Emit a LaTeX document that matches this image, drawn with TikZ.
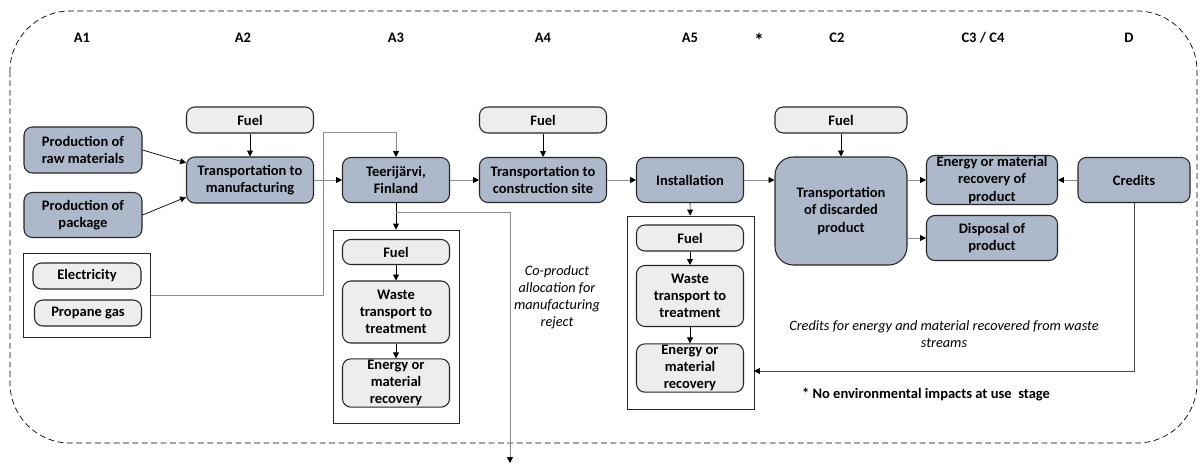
\documentclass[tikz,border=0pt]{standalone}
\usepackage{fontspec}
\setmainfont{Carlito}
\usetikzlibrary{arrows.meta}

\definecolor{stagefill}{HTML}{ADB9CA}
\definecolor{inputfill}{HTML}{EDEDED}
\definecolor{edgegray}{HTML}{262626}

\tikzset{
  sz/.style 2 args={minimum width=#1*0.03cm, minimum height=#2*0.03cm},
  mainbox/.style={draw=edgegray, line width=0.9pt, fill=stagefill, rounded corners=0.25cm,
    align=center, font=\bfseries\fontsize{12.4}{14.6}\selectfont, inner sep=1pt},
  inbox/.style={mainbox, fill=inputfill},
  groupbox/.style={draw=edgegray, line width=0.8pt, fill=white, inner sep=0pt},
  conn/.style={-{Triangle[length=5pt,width=5pt,color=black]}, line width=0.6pt},
  flow/.style={conn, draw=black!45},
  stagelbl/.style={font=\bfseries\fontsize{12.4}{14}\selectfont},
  note/.style={align=center, font=\itshape\fontsize{12.2}{14.5}\selectfont}
}

\begin{document}
\begin{tikzpicture}[x=0.03cm, y=-0.03cm]
  \useasboundingbox (0,0) rectangle (1201,465);

  % system boundary
  \draw[dashed, dash pattern=on 5pt off 3pt, line width=0.6pt, rounded corners=1.8cm]
    (10,11) rectangle (1197,443);

  % stages
  \node[stagelbl] (sAone)   at (82,38)   {A1};
  \node[stagelbl] (sAtwo)   at (243,38)  {A2};
  \node[stagelbl] (sAthree) at (396,38)  {A3};
  \node[stagelbl] (sAfour)  at (543,38)  {A4};
  \node[stagelbl] (sAfive)  at (690,38)  {A5};
  \node[font=\bfseries\fontsize{17}{17}\selectfont] (sUse) at (759,40) {*};
  \node[stagelbl] (sCtwo)   at (837,38)  {C2};
  \node[stagelbl] (sCthree) at (983,38)  {C3 / C4};
  \node[stagelbl] (sD)      at (1129,38) {D};

  % A1 - A2
  \node[mainbox, sz={118}{46}] (prodraw) at (83,150) {Production of\\raw materials};
  \node[mainbox, sz={118}{45}] (prodpkg) at (83,215) {Production of\\package};
  \node[inbox, sz={127}{26}] (fuelmfg) at (250,120) {Fuel};
  \node[mainbox, sz={127}{46}] (transmfg) at (250,180) {Transportation to\\manufacturing};

  \node[groupbox, sz={127}{84}] (energyin) at (87,295) {};
  \node[inbox, sz={108}{26}] (elec) at (87,276) {Electricity};
  \node[inbox, sz={107}{26}] (propane) at (88,313) {Propane gas};

  % A3
  \node[mainbox, sz={107}{45}] (teeri) at (396,180) {Teerijärvi,\\Finland};
  \node[groupbox, sz={126}{193}] (wastemfgbox) at (396,326.5) {};
  \node[inbox, sz={107}{25}] (fuelwmfg) at (396,252) {Fuel};
  \node[inbox, sz={107}{62}] (wastemfg) at (396,312) {Waste\\transport to\\treatment};
  \node[inbox, sz={107}{48}] (recovmfg) at (396,383) {Energy or\\material\\recovery};

  % A4 - A5
  \node[inbox, sz={127}{26}] (fuelsite) at (543,120) {Fuel};
  \node[mainbox, sz={127}{45}] (transsite) at (543,180) {Transportation to\\construction site};
  \node[mainbox, sz={107}{45}] (install) at (690,180) {Installation};
  \node[groupbox, sz={127}{193}] (wasteinsbox) at (690.5,312.5) {};
  \node[inbox, sz={107}{26}] (fuelwins) at (690,238) {Fuel};
  \node[inbox, sz={107}{61}] (wasteins) at (690,296) {Waste\\transport to\\treatment};
  \node[inbox, sz={107}{48}] (recovins) at (690,368) {Energy or\\material\\recovery};

  % C2 - D
  \node[inbox, sz={132}{26}] (fueldisc) at (841,120) {Fuel};
  \node[mainbox, rounded corners=0.55cm, sz={132}{108}] (transdisc) at (841,211)
    {Transportation\\of discarded\\product};
  \node[mainbox, sz={131}{45}] (recovprod) at (992,180) {Energy or material\\recovery of\\product};
  \node[mainbox, sz={131}{45}] (disposal) at (992,238) {Disposal of\\product};
  \node[mainbox, sz={112}{45}] (credits) at (1134,180) {Credits};

  % notes
  \node[note] (coprod) at (557,297) {Co-product\\allocation for\\manufacturing\\reject};
  \node[note] (crednote) at (944,334) {Credits for energy and material recovered from waste\\streams};
  \node[stagelbl] (usenote) at (926,395) {* No environmental impacts at use\ \ stage};

  \coordinate (bend) at (323,132);
  \coordinate (rejsplit) at (396,212);
  \coordinate (rejout) at (510,463);
  \coordinate (credret) at (754,371);

  % connectors
  \draw[conn] (prodraw.east) -- (transmfg.165);
  \draw[conn] (prodpkg.east) -- (transmfg.195);
  \draw[conn] (fuelmfg) -- (transmfg);
  \draw[flow] (transmfg) -- (teeri);
  \draw[draw=black!45, line width=0.6pt] (energyin.east) -| (bend);
  \draw[conn, draw=black!45] (bend) -| (teeri.north);
  \draw[conn] (teeri) -- (wastemfgbox);
  \draw[flow] (rejsplit) -| (rejout);
  \draw[conn] (fuelwmfg) -- (wastemfg);
  \draw[conn] (wastemfg) -- (recovmfg);
  \draw[flow] (teeri) -- (transsite);
  \draw[conn] (fuelsite) -- (transsite);
  \draw[flow] (transsite) -- (install);
  \draw[conn] (install) -- (wasteinsbox);
  \draw[conn] (fuelwins) -- (wasteins);
  \draw[conn] (wasteins) -- (recovins);
  \draw[flow] (install.east) -- (install.east -| transdisc.west);
  \draw[conn] (fueldisc) -- (transdisc);
  \draw[flow] (transdisc.east |- recovprod) -- (recovprod.west);
  \draw[flow] (transdisc.east |- disposal) -- (disposal.west);
  \draw[flow] (credits) -- (recovprod);
  \draw[conn, draw=black!70] (credits.south) |- (credret);
\end{tikzpicture}
\end{document}
